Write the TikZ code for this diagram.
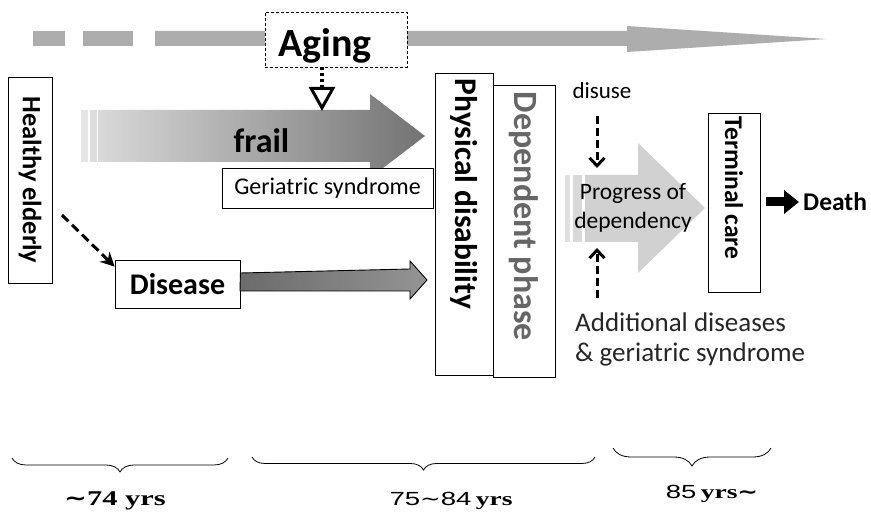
\documentclass[tikz,border=0pt]{standalone}
\usepackage{fontspec}
\setmainfont{Carlito}
\newfontfamily\lblsans[FakeStretch=1.45]{Liberation Sans}
\newfontfamily\lblserif[FakeStretch=1.45]{Liberation Serif}
\newfontfamily\symfont[FakeStretch=1.3]{DejaVu Sans}
\usetikzlibrary{arrows.meta,decorations.pathreplacing,shapes.geometric}
\begin{document}
\begin{tikzpicture}[x=1pt,y=-1pt,
  box/.style={draw=black, line width=0.8pt, fill=white, inner sep=0pt},
  vbox/.style={box, rotate=-90},
  txt/.style={inner sep=0pt},
  dasharrow/.style={line width=3pt, dash pattern=on 8pt off 4pt, -{Straight Barb[length=8pt,width=15pt]}},
  brc/.style={decorate, line width=0.8pt},
  lbl/.style={inner sep=0pt, anchor=base}
]
\useasboundingbox (0,0) rectangle (871,513);

% top dashed gray arrow (aging axis)
\fill[black!32] (33,31) rectangle (65,46);
\fill[black!32] (83,31) rectangle (133,46);
\fill[black!32] (155,31) -- (627,31) -- (627,26) -- (827,39) -- (627,52) -- (627,46) -- (155,46) -- cycle;

\node[box, dashed, dash pattern=on 3pt off 2pt, minimum width=142pt, minimum height=55pt] (aging) at (336,39.5)
  {\raisebox{-17pt}[0pt][0pt]{\fontsize{40}{40}\selectfont\bfseries Aging}\hspace*{22pt}};

% frail arrow
\fill[black!10] (81,110) rectangle (88,162);
\fill[black!13] (90,110) rectangle (97,162);
\shade[left color=black!15, right color=black!55] (98,110) -- (370,110) -- (370,94) -- (425,136) -- (370,178) -- (370,162) -- (98,162) -- cycle;
\node[txt, anchor=base] (frail) at (261.5,153) {\fontsize{34}{36}\selectfont\bfseries frail};

% aging -> frail dotted arrow
\coordinate (agingtip) at (322,111);
\draw[line width=4.5pt, dash pattern=on 3pt off 3pt, -{Triangle[open,length=24pt,width=26pt,line width=3pt]}] (aging.south -| agingtip) -- (agingtip);

% geriatric syndrome
\node[box, minimum width=211pt, minimum height=40pt] (geri) at (327.5,188) {\fontsize{24}{26}\selectfont Geriatric syndrome};

% healthy elderly
\node[vbox, minimum width=206pt, minimum height=44pt] (healthy) at (30,180) {\fontsize{26.5}{28}\selectfont\bfseries Healthy elderly};

% disease
\node[box, minimum width=125pt, minimum height=48pt] (disease) at (177.5,284) {\fontsize{30}{32}\selectfont\bfseries Disease};
\coordinate (hdstart) at (62,215);
\draw[line width=3pt, dash pattern=on 9pt off 5pt, -{Stealth[length=14pt,width=14pt]}] (hdstart) -- ([yshift=-7pt]disease.north west);

% disease arrow
\shade[left color=black!58, right color=black!42, draw=black, line width=0.9pt] (disease.east) ++(0,-11) -- (410,269) -- (410,261) -- (427,280) -- (410,299) -- (410,291) -- (240,291) -- cycle;

% physical disability / dependent phase
\node[vbox, minimum width=302pt, minimum height=58pt] (phys) at (464,224)
  {\makebox[290pt][l]{\fontsize{31.5}{33}\selectfont\bfseries Physical disability}};
\node[vbox, minimum width=292pt, minimum height=62pt] (dep) at (524,231)
  {\makebox[278pt][l]{\fontsize{34}{35}\selectfont\bfseries\color{black!60}Dependent phase}};

% disuse
\node[txt, anchor=base] (disuse) at (602,99) {\fontsize{23}{25}\selectfont disuse};
\coordinate (du1) at (597,116);
\coordinate (du2) at (597,168);
\draw[dasharrow] (du1) -- (du2);

% progress arrow
\fill[black!12] (565,175) rectangle (570,242);
\fill[black!15] (573,175) rectangle (582,242);
\fill[black!18] (585,175) -- (638,175) -- (638,143) -- (705,208) -- (638,273) -- (638,242) -- (585,242) -- cycle;
\node[txt, align=center, font=\fontsize{23.5}{29}\selectfont] (prog) at (633,208) {Progress of\\dependency};

\coordinate (ad1) at (597,298);
\coordinate (ad2) at (597,248);
\draw[dasharrow] (ad1) -- (ad2);

\node[txt, anchor=base west] (add1) at (575,332) {\fontsize{27}{29}\selectfont\color{black!85}Additional diseases};
\node[txt, anchor=base west] (add2) at (575,362) {\fontsize{27}{29}\selectfont\color{black!85}\& geriatric syndrome};

% terminal care
\node[vbox, minimum width=179pt, minimum height=52pt] (term) at (734,202.5)
  {\makebox[171pt][l]{\fontsize{25.5}{27}\selectfont\bfseries Terminal care}};

% death
\node[txt, anchor=west] (death) at (803,202) {\fontsize{25.5}{27}\selectfont\bfseries Death};
\coordinate (dstart) at (766,202);
\draw[line width=9pt, -{Triangle[length=15pt,width=23pt]}] (dstart) -- ([xshift=-4pt]death.west);

% braces
\draw[brc, decoration={brace, amplitude=14pt}] (228,458) -- (12,458);
\draw[brc, decoration={brace, amplitude=13pt}] (595,457) -- (252,457);
\draw[brc, decoration={brace, amplitude=18pt}] (771,448) -- (613,448);

\node[lbl, font=\fontsize{21}{22}\selectfont] (l1) at (115,505) {{\symfont\bfseries ∼}{\lblserif\bfseries 74 yrs}};
\node[lbl, font=\fontsize{19}{22}\selectfont] (l2) at (451,505) {{\lblsans 75}{\symfont ∼}{\lblsans 84} {\lblserif\bfseries yrs}};
\node[lbl, font=\fontsize{19}{22}\selectfont] (l3) at (712,498) {{\lblsans 85} {\lblserif\bfseries yrs}{\symfont\bfseries ∼}};
\end{tikzpicture}
\end{document}
